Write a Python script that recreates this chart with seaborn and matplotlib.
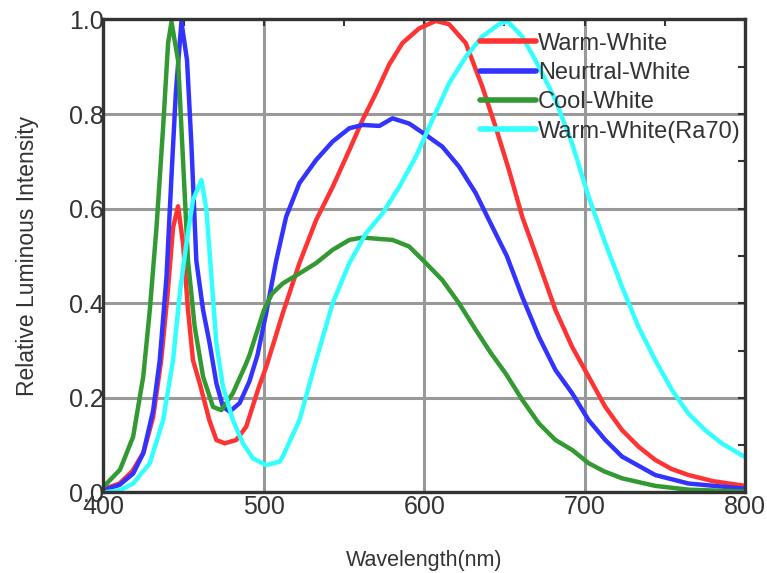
import matplotlib
matplotlib.use('Agg')
import matplotlib.pyplot as plt
from matplotlib.ticker import MultipleLocator, FormatStrFormatter
import numpy as np
import pandas as pd
import seaborn as sns

# values (wavelength in nm, relative intensity)
warm_wl = [400, 410, 418, 425, 431, 436, 440, 443.4, 446.5, 449.6, 452.7, 455.8, 460, 466,
           470.4, 475.6, 482.8, 489, 497, 501.5, 506, 511.8, 522.2, 532.6, 542.9, 553.3,
           561.6, 570, 578.2, 586.4, 596.8, 607.2, 615.5, 625.9, 636.2, 644.5, 652.8, 661.1,
           671.5, 681.8, 692.2, 702.5, 712.9, 723.3, 733.6, 744, 754, 764.7, 780, 800]
warm_val = [0.007, 0.019, 0.045, 0.085, 0.16, 0.28, 0.42, 0.56, 0.605, 0.527, 0.386, 0.28,
            0.231, 0.153, 0.111, 0.104, 0.111, 0.139, 0.224, 0.266, 0.315, 0.379, 0.485,
            0.576, 0.646, 0.724, 0.788, 0.845, 0.905, 0.95, 0.981, 0.997, 0.99, 0.95, 0.858,
            0.773, 0.682, 0.583, 0.485, 0.386, 0.308, 0.245, 0.181, 0.132, 0.097, 0.069,
            0.05, 0.037, 0.024, 0.014]

neutral_wl = [400, 410, 418.5, 424.8, 431, 435.1, 439.3, 442.4, 445.1, 448.6, 452.1, 454.8,
              457.9, 462.1, 466.2, 470.4, 474.5, 478.7, 484.9, 491, 496, 501.5, 507.7, 513.9,
              522.2, 532.6, 542.9, 553.3, 561.6, 572, 580.2, 590.6, 601, 611.3, 621.7, 632.1,
              642.4, 651.5, 661.1, 671.5, 681.8, 692.2, 702.5, 712.9, 723.3, 744, 764.7, 800]
neutral_val = [0.005, 0.016, 0.04, 0.083, 0.174, 0.28, 0.456, 0.668, 0.844, 0.995, 0.914,
               0.738, 0.49, 0.386, 0.315, 0.231, 0.181, 0.171, 0.189, 0.235, 0.29, 0.38,
               0.49, 0.583, 0.654, 0.703, 0.742, 0.77, 0.777, 0.775, 0.791, 0.78, 0.756,
               0.731, 0.689, 0.633, 0.562, 0.5, 0.414, 0.329, 0.259, 0.21, 0.153, 0.111,
               0.076, 0.037, 0.019, 0.008]

cool_wl = [400, 410.3, 418.5, 424.8, 428.9, 433.1, 437.2, 440.3, 442.4, 446.5, 449.6, 452.7,
           456.9, 462.1, 468.3, 473.5, 480.7, 489, 491, 500, 505, 511.8, 522.2, 532.6, 542.9,
           553.3, 561.6, 572, 580.2, 590.6, 601, 611.3, 621.7, 632.1, 641.5, 650.7, 661.1,
           671.5, 681.8, 692.2, 702.5, 712, 723.3, 744, 764.7, 800]
cool_val = [0.012, 0.048, 0.118, 0.245, 0.386, 0.562, 0.773, 0.95, 0.995, 0.914, 0.703, 0.49,
            0.35, 0.245, 0.181, 0.174, 0.21, 0.273, 0.29, 0.385, 0.42, 0.442, 0.463, 0.485,
            0.513, 0.534, 0.539, 0.536, 0.534, 0.52, 0.485, 0.449, 0.40, 0.344, 0.295, 0.252,
            0.196, 0.146, 0.111, 0.09, 0.062, 0.045, 0.030, 0.014, 0.006, 0.002]

ra70_wl = [400, 410.3, 418.5, 428.9, 437.2, 443.4, 447.6, 451.7, 455.8, 461.1, 464.2, 467.3,
           470.4, 474.5, 480.7, 486.9, 493.2, 501.5, 509.8, 511.8, 522.2, 532.6, 542.9, 553.3,
           563.7, 574, 584.4, 594.8, 605.1, 615.5, 625.9, 636.2, 646.6, 652, 661.1, 671.5,
           681.8, 692.2, 702.5, 712.9, 723.3, 733.6, 744, 754.4, 764.7, 775.1, 785.5, 800]
ra70_val = [0.0, 0.005, 0.019, 0.062, 0.153, 0.28, 0.421, 0.527, 0.618, 0.661, 0.597, 0.456,
            0.315, 0.224, 0.153, 0.104, 0.072, 0.058, 0.065, 0.076, 0.153, 0.28, 0.40, 0.485,
            0.548, 0.59, 0.646, 0.71, 0.788, 0.865, 0.921, 0.964, 0.99, 0.996, 0.964, 0.90,
            0.83, 0.738, 0.625, 0.527, 0.435, 0.35, 0.28, 0.217, 0.167, 0.132, 0.104, 0.075]

series_names = ['Warm-White', 'Neurtral-White', 'Cool-White', 'Warm-White(Ra70)']
series_colors = ['#ff3333', '#3333ff', '#339933', '#33ffff']

frames = []
for name, wl, val in zip(series_names,
                         [warm_wl, neutral_wl, cool_wl, ra70_wl],
                         [warm_val, neutral_val, cool_val, ra70_val]):
    frames.append(pd.DataFrame({'wavelength': wl, 'intensity': val, 'series': name}))
df = pd.concat(frames, ignore_index=True)

sns.set_style('white')
plt.rcParams['font.family'] = ['Liberation Sans', 'DejaVu Sans']

fig = plt.figure(figsize=(7.67, 5.73), dpi=100)
ax = fig.add_axes([0.1349, 0.1405, 0.8364, 0.8255])

sns.lineplot(data=df, x='wavelength', y='intensity', hue='series', hue_order=series_names,
             palette=dict(zip(series_names, series_colors)), estimator=None, sort=False,
             linewidth=3.2, ax=ax)

ax.set_xlim(400, 800)
ax.set_ylim(0, 1.0)
ax.xaxis.set_major_locator(MultipleLocator(100))
ax.xaxis.set_minor_locator(MultipleLocator(50))
ax.yaxis.set_major_locator(MultipleLocator(0.2))
ax.yaxis.set_minor_locator(MultipleLocator(0.1))
ax.yaxis.set_major_formatter(FormatStrFormatter('%.1f'))

ax.set_axisbelow(True)
ax.grid(True, which='major', color='#999999', linewidth=2.2)
for sp in ax.spines.values():
    sp.set_color('#333333')
    sp.set_linewidth(2.4)
ax.tick_params(which='both', direction='in', top=True, right=True, color='#333333',
               labelcolor='#333333', labelsize=18, length=5, width=1.5)
ax.tick_params(axis='x', pad=2)
ax.tick_params(axis='y', pad=0)

ax.set_xlabel('Wavelength(nm)', fontsize=15.5, color='#333333', labelpad=22)
ax.set_ylabel('Relative Luminous Intensity', fontsize=16.5, color='#333333', labelpad=21)

handles, labels = ax.get_legend_handles_labels()
leg = ax.legend(handles, labels, loc='upper left', bbox_to_anchor=(0.587, 0.972),
                frameon=False, fontsize=17, handlelength=2.35, handletextpad=0.1,
                labelspacing=0.31, borderpad=0, borderaxespad=0)
for line in leg.get_lines():
    line.set_linewidth(4)
for t in leg.get_texts():
    t.set_color('#333333')

fig.savefig('out.png', dpi=100)
